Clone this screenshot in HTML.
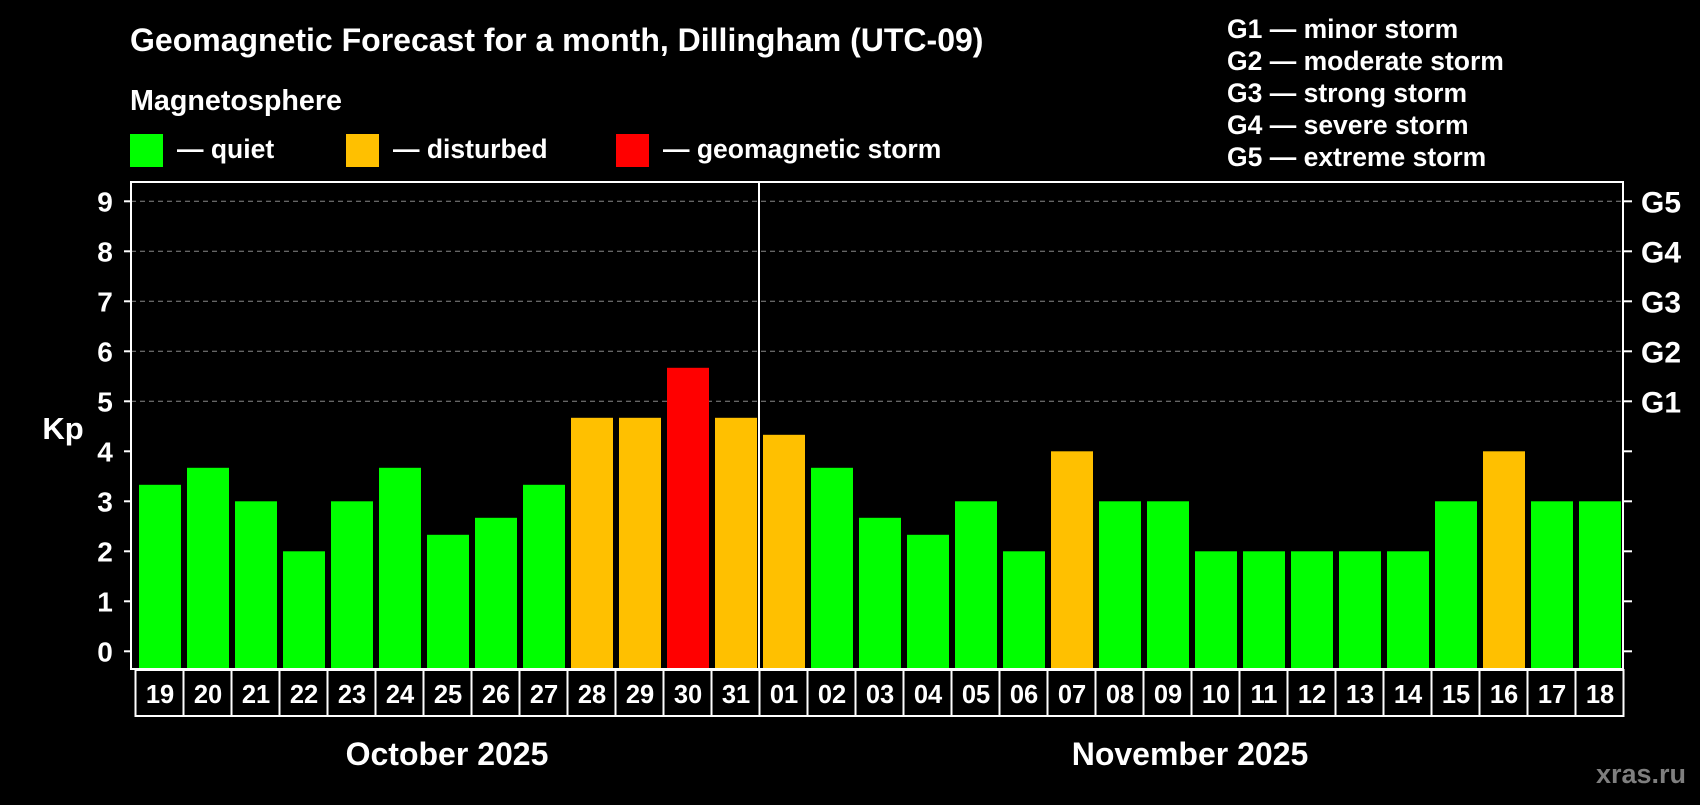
<!DOCTYPE html>
<html><head><meta charset="utf-8"><style>
html,body{margin:0;padding:0;background:#000;}
body{width:1700px;height:800px;overflow:hidden;font-family:"Liberation Sans",sans-serif;}
text{font-family:"Liberation Sans",sans-serif;font-weight:bold;fill:#fff;}
</style></head><body>
<svg id="chart" width="1700" height="800" xmlns="http://www.w3.org/2000/svg">
<text x="130" y="51" font-size="32">Geomagnetic Forecast for a month, Dillingham (UTC-09)</text>
<text x="130" y="110" font-size="28.7">Magnetosphere</text>
<g><rect x="130" y="134" width="33" height="33" fill="#00ff00"/><text x="177" y="158" font-size="26.5">— quiet</text></g>
<g><rect x="346" y="134" width="33" height="33" fill="#ffc000"/><text x="393" y="158" font-size="26.5">— disturbed</text></g>
<g><rect x="616" y="134" width="33" height="33" fill="#ff0000"/><text x="663" y="158" font-size="26.5">— geomagnetic storm</text></g>
<g font-size="26.5">
<text x="1227" y="38">G1 — minor storm</text>
<text x="1227" y="70">G2 — moderate storm</text>
<text x="1227" y="102">G3 — strong storm</text>
<text x="1227" y="134">G4 — severe storm</text>
<text x="1227" y="166">G5 — extreme storm</text>
</g>
<text x="63" y="439" font-size="31" text-anchor="middle">Kp</text>
<g id="grid"></g><g id="bars"></g><g id="axes"></g>
<text x="447" y="765" font-size="32" text-anchor="middle">October 2025</text>
<text x="1190" y="765" font-size="32" text-anchor="middle">November 2025</text>
<text x="1686" y="783" font-size="27" text-anchor="end" style="fill:#7f7f7f">xras.ru</text>
</svg>
<script>
const days=["19","20","21","22","23","24","25","26","27","28","29","30","31","01","02","03","04","05","06","07","08","09","10","11","12","13","14","15","16","17","18"];
const kpValues=[3.33,3.67,3,2,3,3.67,2.33,2.67,3.33,4.67,4.67,5.67,4.67,4.33,3.67,2.67,2.33,3,2,4,3,3,2,2,2,2,2,3,4,3,3];
const yTicks=[0,1,2,3,4,5,6,7,8,9];
const gLabels=["","","","","","G1","G2","G3","G4","G5"];
const NS="http://www.w3.org/2000/svg";
const L=131,R=1623,T=182,B=669,step=48,x0=139,bw=42;
const y=v=>651.3-v*50;
const x=i=>x0+i*step;
function mk(tag,attrs,parent,txt){const e=document.createElementNS(NS,tag);for(const k in attrs)e.setAttribute(k,attrs[k]);if(txt!==undefined)e.textContent=txt;parent.appendChild(e);return e;}
const grid=document.getElementById('grid'),bars=document.getElementById('bars'),axes=document.getElementById('axes');
yTicks.forEach((t,i)=>{
 if(t>=5){const g=mk('line',{x1:L,x2:R,y1:y(t),y2:y(t),stroke:'#888','stroke-width':1,'stroke-dasharray':'5,4'},grid);
 
 }
 mk('line',{x1:L-7,x2:L,y1:y(t),y2:y(t),stroke:'#fff','stroke-width':2},axes);
 mk('line',{x1:R,x2:R+9,y1:y(t),y2:y(t),stroke:'#fff','stroke-width':2},axes);
 const tl=mk('text',{x:105,y:y(t)+10,'font-size':28,'text-anchor':'middle'},axes,String(t));
 
 
 if(gLabels[i]){const gl=mk('text',{x:1641,y:y(t)+11,'font-size':30},axes,gLabels[i]);
 
 }
});
kpValues.forEach((v,i)=>{
 const c=v>=5?'#ff0000':(v>=4?'#ffc000':'#00ff00');
 const b=mk('rect',{x:x(i),y:y(v),width:bw,height:B-y(v),fill:c},bars);
 
 
 mk('rect',{x:x(i)-3.5,y:670,width:step,height:46,fill:'none',stroke:'#fff','stroke-width':2},axes);
 const t=mk('text',{x:x(i)+bw/2,y:703,'font-size':25.5,'text-anchor':'middle'},axes,days[i]);
 
 
});
mk('rect',{x:L,y:T,width:R-L,height:B-T,fill:'none',stroke:'#fff','stroke-width':2},axes);
mk('line',{x1:759,x2:759,y1:T,y2:B,stroke:'#fff','stroke-width':2},axes);
</script>
</body></html>
